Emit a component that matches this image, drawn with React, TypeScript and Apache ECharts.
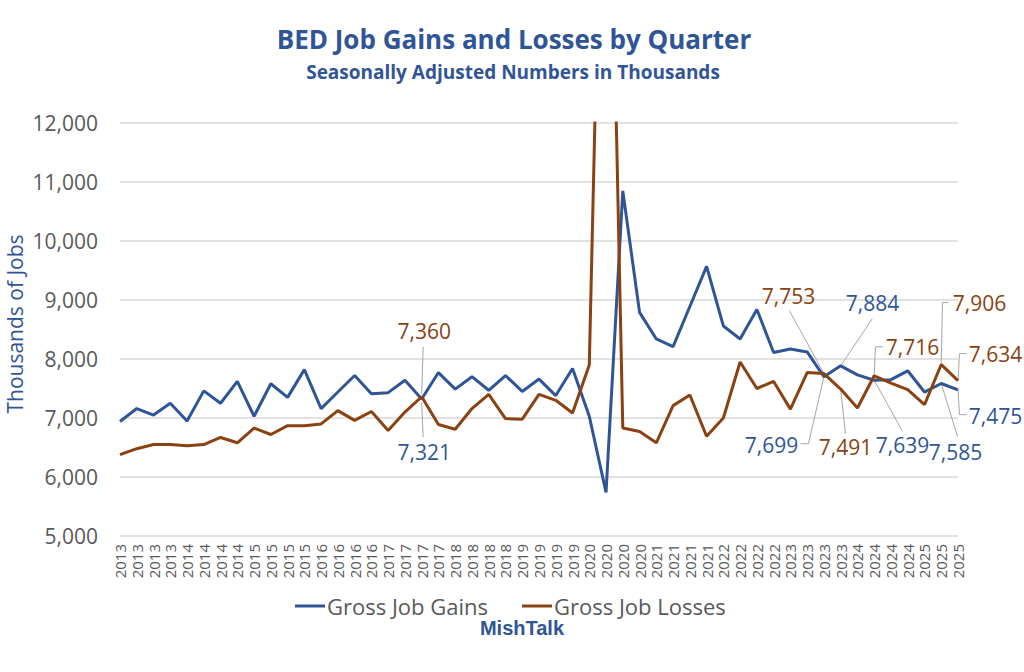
import { useEffect, useRef } from "react";
import * as echarts from "echarts";

const quarterLabels: string[] = [
  "2013", "2013", "2013", "2013",
  "2014", "2014", "2014", "2014",
  "2015", "2015", "2015", "2015",
  "2016", "2016", "2016", "2016",
  "2017", "2017", "2017", "2017",
  "2018", "2018", "2018", "2018",
  "2019", "2019", "2019", "2019",
  "2020", "2020", "2020", "2020",
  "2021", "2021", "2021", "2021",
  "2022", "2022", "2022", "2022",
  "2023", "2023", "2023", "2023",
  "2024", "2024", "2024", "2024",
  "2025", "2025", "2025",
];

const grossJobGains: number[] = [
  6940, 7160, 7050, 7250,
  6950, 7460, 7250, 7620,
  7030, 7580, 7350, 7820,
  7160, 7440, 7720, 7410,
  7430, 7640, 7321, 7770,
  7490, 7700, 7470, 7720,
  7450, 7660, 7380, 7840,
  7030, 5740, 10850, 8790,
  8340, 8210, 8890, 9570,
  8560, 8340, 8840, 8110,
  8170, 8120, 7699, 7884,
  7730, 7639, 7650, 7800,
  7440, 7585, 7475,
];

const grossJobLosses: number[] = [
  6380, 6480, 6550, 6550,
  6530, 6550, 6670, 6580,
  6830, 6720, 6870, 6870,
  6900, 7125, 6960, 7110,
  6790, 7100, 7360, 6890,
  6810, 7160, 7400, 6990,
  6980, 7400, 7300, 7085,
  7900, 20200, 6830, 6770,
  6580, 7210, 7390, 6690,
  7000, 7950, 7500, 7620,
  7150, 7770, 7753, 7491,
  7170, 7716, 7590, 7480,
  7225, 7906, 7634,
];

const seriesNames = ["Gross Job Gains", "Gross Job Losses"];
const yAxisTitle = "Thousands of Jobs";
const yMin = 5000;
const yMax = 12000;
const yStep = 1000;

const BLUE = "#2F5597";
const BROWN = "#8A4212";
const GRAY_TEXT = "#595959";
const LEADER = "#A6A6A6";
const FONT = "'Open Sans', 'Noto Sans', sans-serif";

// Callouts: which series / quarter index gets a value label (layout offsets only)
type Callout = { s: number; i: number; dx: number; dy: number; leader: number[][] };
const callouts: Callout[] = [
  { s: 1, i: 18, dx: 2.5, dy: -65.5, leader: [[1.5, -50], [0, -3]] },
  { s: 0, i: 18, dx: 2.5, dy: 53, leader: [[1.5, 38], [0, 3]] },
  { s: 1, i: 42, dx: -35.5, dy: -78, leader: [[-34.5, -63], [0, 0]] },
  { s: 0, i: 42, dx: -52.5, dy: 68, leader: [[-23.5, 67], [-15.5, 67], [0, 0]] },
  { s: 0, i: 43, dx: 31.75, dy: -63, leader: [[31.5, -47], [0, 0]] },
  { s: 1, i: 43, dx: 4.75, dy: 57.7, leader: [[4.75, 44.7], [0, 0]] },
  { s: 1, i: 45, dx: 38.25, dy: -29, leader: [[8.25, -29], [1.25, -29], [0, 0]] },
  { s: 0, i: 45, dx: 28.25, dy: 64.4, leader: [[28, 50.4], [0, 0]] },
  { s: 1, i: 49, dx: 38.25, dy: -62, leader: [[7.25, -62], [1.25, -62], [0, 0]] },
  { s: 0, i: 49, dx: 14.25, dy: 69, leader: [[16.25, 53], [0, 0]] },
  { s: 1, i: 50, dx: 37.5, dy: -27, leader: [[8.5, -27], [1.5, -27], [0, 0]] },
  { s: 0, i: 50, dx: 37.5, dy: 25.7, leader: [[8.5, 24.7], [1.5, 24.7], [0, 0]] },
];

// Legend item left edges (layout only)
const legendLefts = [295, 522];

function textEl(text: string, x: number, y: number, fill: string, font: string, rotation = 0) {
  return {
    type: "text",
    x,
    y,
    rotation,
    silent: true,
    style: {
      text,
      fill,
      font,
      align: "center",
      verticalAlign: "middle",
      textAlign: "center",
      textVerticalAlign: "middle",
    },
  };
}

export default function App() {
  const ref = useRef<HTMLDivElement>(null);

  useEffect(() => {
    if (!ref.current) return;
    const chart = echarts.init(ref.current, null, { renderer: "svg" });
    const seriesData = [grossJobGains, grossJobLosses];
    const colors = [BLUE, BROWN];

    chart.setOption({
      animation: false,
      grid: {
        left: 120,
        right: 66,
        top: 123,
        bottom: 136,
        containLabel: false,
        outerBoundsMode: "none",
      },
      legend: seriesNames.map((name, k) => ({
        data: [name],
        top: 595,
        left: legendLefts[k],
        icon: "rect",
        itemWidth: 30,
        itemHeight: 3,
        padding: 0,
        textStyle: { fontSize: 22, color: GRAY_TEXT, fontFamily: FONT, padding: [0, 0, 0, -3] },
      })),
      xAxis: {
        type: "category",
        data: quarterLabels,
        boundaryGap: false,
        axisLine: { show: false },
        axisTick: { show: false },
        axisLabel: {
          interval: 0,
          rotate: 90,
          fontSize: 15,
          color: GRAY_TEXT,
          fontFamily: FONT,
          margin: 8,
        },
        splitLine: { show: false },
      },
      yAxis: {
        type: "value",
        min: yMin,
        max: yMax,
        interval: yStep,
        axisLine: { show: false },
        axisTick: { show: false },
        axisLabel: {
          fontSize: 21,
          color: GRAY_TEXT,
          fontFamily: FONT,
          margin: 22,
          formatter: (v: number) => v.toLocaleString("en-US"),
        },
        splitLine: { lineStyle: { color: "#D9D9D9", width: 1.5 } },
      },
      series: seriesNames.map((name, k) => ({
        name,
        type: "line",
        data: seriesData[k],
        showSymbol: false,
        symbol: "none",
        clip: true,
        lineStyle: { color: colors[k], width: 3 },
        itemStyle: { color: colors[k] },
        z: 3,
      })),
    });

    const graphics: any[] = [
      textEl("BED Job Gains and Losses by Quarter", 514, 39, BLUE, `bold 26px ${FONT}`),
      textEl("Seasonally Adjusted Numbers in Thousands", 513, 72, BLUE, `bold 19px ${FONT}`),
      textEl("MishTalk", 522, 628, BLUE, "bold 20px 'Liberation Sans', Arial, sans-serif"),
      textEl(yAxisTitle, 15, 324, BLUE, `21px ${FONT}`, Math.PI / 2),
    ];

    callouts.forEach((c) => {
      const v = seriesData[c.s][c.i];
      const p = chart.convertToPixel({ gridIndex: 0 }, [c.i, v]) as number[];
      const pts = c.leader.map(([ox, oy]) => [p[0] + ox, p[1] + oy]);
      graphics.push({
        type: "polyline",
        silent: true,
        z: 1,
        shape: { points: pts },
        style: { stroke: LEADER, lineWidth: 1, fill: null },
      });
      graphics.push(
        textEl(v.toLocaleString("en-US"), p[0] + c.dx, p[1] + c.dy, colors[c.s], `21px ${FONT}`)
      );
    });

    chart.setOption({ graphic: { elements: graphics } });

    return () => chart.dispose();
  }, []);

  return (
    <div
      ref={ref}
      style={{ position: "absolute", left: 0, top: 0, width: 1024, height: 672, background: "#fff" }}
    />
  );
}
